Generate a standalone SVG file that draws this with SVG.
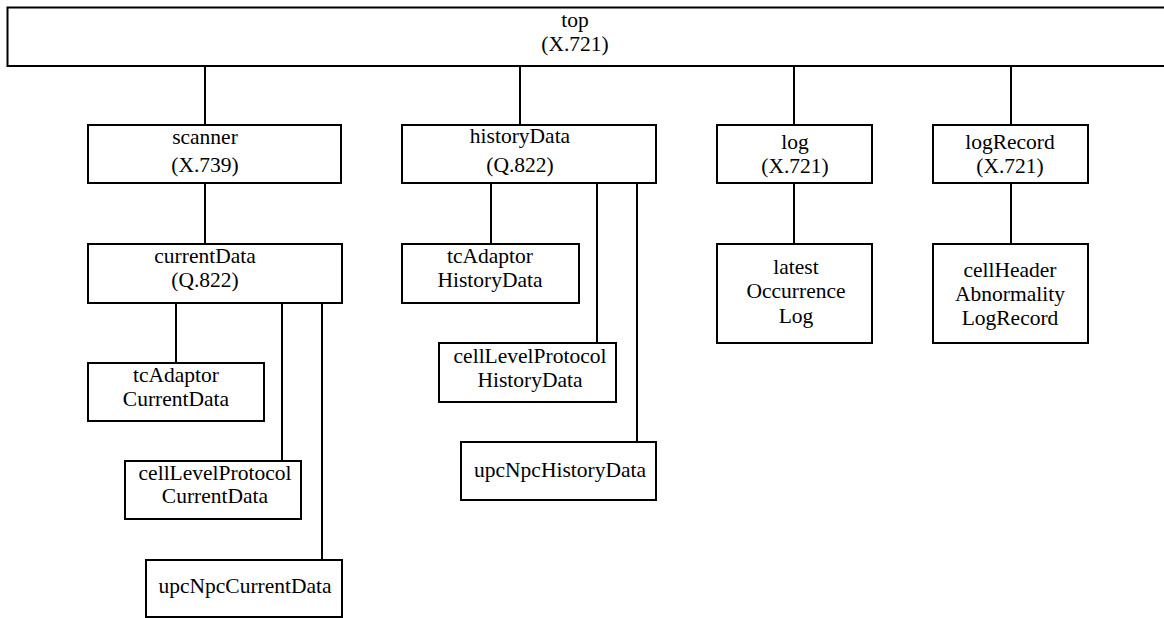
<svg xmlns="http://www.w3.org/2000/svg" width="1164" height="618" viewBox="0 0 1164 618">
<style>
rect{fill:#fff;stroke:#000;stroke-width:2}
line{stroke:#000;stroke-width:2}
text{font-family:"Liberation Serif","Times New Roman",serif;font-size:21.5px;fill:#000;text-anchor:middle}
</style>
<rect x="0" y="0" width="1164" height="618" style="stroke:none"/>
<g id="connectors">
<line x1="205" y1="66" x2="205" y2="125"/>
<line x1="520" y1="66" x2="520" y2="125"/>
<line x1="794" y1="66" x2="794" y2="125"/>
<line x1="1011" y1="66" x2="1011" y2="125"/>
<line x1="205" y1="183" x2="205" y2="244"/>
<line x1="176" y1="303" x2="176" y2="363"/>
<line x1="282" y1="303" x2="282" y2="461"/>
<line x1="322" y1="303" x2="322" y2="560"/>
<line x1="491" y1="183" x2="491" y2="244"/>
<line x1="597" y1="183" x2="597" y2="343"/>
<line x1="637" y1="183" x2="637" y2="442"/>
<line x1="794" y1="183" x2="794" y2="244"/>
<line x1="1011" y1="183" x2="1011" y2="244"/>
</g>
<g id="top"><rect x="7.5" y="7.5" width="1162" height="58.5"/><text x="575" y="27">top</text><text x="575" y="51">(X.721)</text></g>
<g id="scanner"><rect x="88" y="125" width="253" height="58"/><text x="205" y="144">scanner</text><text x="205" y="172">(X.739)</text></g>
<g id="historyData"><rect x="402" y="125" width="254" height="58"/><text x="520" y="143">historyData</text><text x="520" y="172">(Q.822)</text></g>
<g id="log"><rect x="717" y="125" width="155" height="58"/><text x="795" y="149">log</text><text x="795" y="173">(X.721)</text></g>
<g id="logRecord"><rect x="933" y="125" width="155" height="58"/><text x="1010" y="149">logRecord</text><text x="1010" y="173">(X.721)</text></g>
<g id="currentData"><rect x="88" y="244" width="254" height="59"/><text x="205" y="263">currentData</text><text x="205" y="287">(Q.822)</text></g>
<g id="tcAdaptorCurrentData"><rect x="88" y="363" width="176" height="58"/><text x="176" y="382">tcAdaptor</text><text x="176" y="406">CurrentData</text></g>
<g id="cellLevelProtocolCurrentData"><rect x="125" y="461" width="176" height="58"/><text x="215" y="480">cellLevelProtocol</text><text x="215" y="503">CurrentData</text></g>
<g id="upcNpcCurrentData"><rect x="146" y="560" width="196" height="57"/><text x="245" y="593">upcNpcCurrentData</text></g>
<g id="tcAdaptorHistoryData"><rect x="402" y="244" width="177" height="59"/><text x="490" y="263">tcAdaptor</text><text x="490" y="287">HistoryData</text></g>
<g id="cellLevelProtocolHistoryData"><rect x="439" y="343" width="177" height="59"/><text x="530" y="363">cellLevelProtocol</text><text x="530" y="387">HistoryData</text></g>
<g id="upcNpcHistoryData"><rect x="461" y="442" width="195" height="58"/><text x="560" y="477">upcNpcHistoryData</text></g>
<g id="latestOccurrenceLog"><rect x="717" y="244" width="155" height="99"/><text x="796" y="274">latest</text><text x="796" y="298">Occurrence</text><text x="796" y="323">Log</text></g>
<g id="cellHeaderAbnormalityLogRecord"><rect x="933" y="244" width="155" height="99"/><text x="1010" y="277">cellHeader</text><text x="1010" y="301">Abnormality</text><text x="1010" y="325">LogRecord</text></g>
</svg>
